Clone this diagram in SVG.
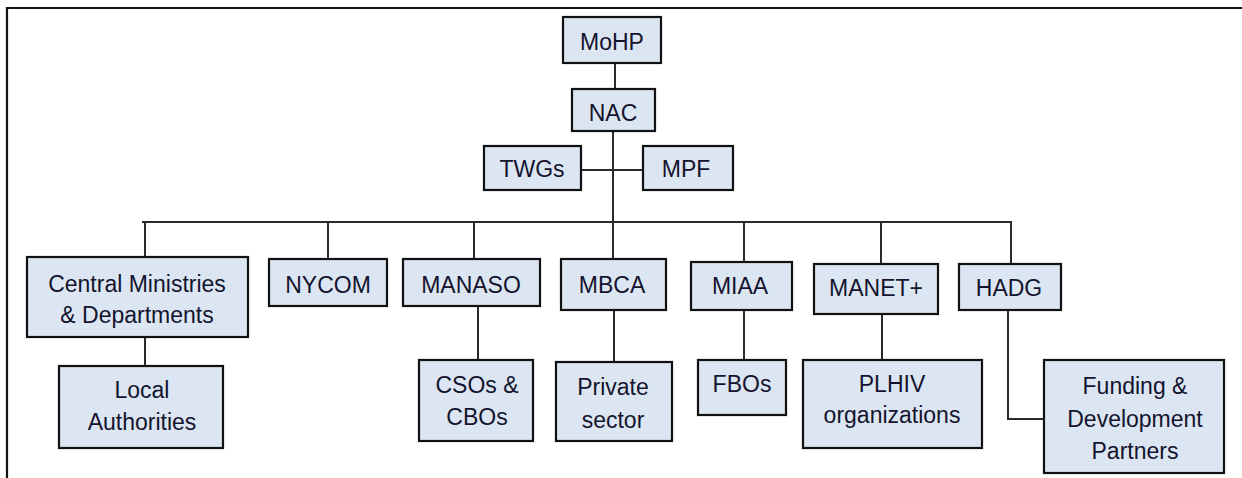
<svg xmlns="http://www.w3.org/2000/svg" width="1242" height="478" viewBox="0 0 1242 478">
<style>
.box{fill:#dce6f2;stroke:#111;stroke-width:2.2}
.t{font-family:"Liberation Sans",Arial,sans-serif;font-size:23px;fill:#14142e;text-anchor:middle}
.c{fill:none;stroke:#2a2a2a;stroke-width:2}
</style>
<rect width="1242" height="478" fill="#fff"/>
<path d="M7,478 V8 H1242" fill="none" stroke="#111" stroke-width="2.2"/>
<g id="connectors">
<path class="c" d="M615,63 V89"/>
<path class="c" d="M613,131 V222"/>
<path class="c" d="M581,170 H643"/>
<path class="c" d="M142,222 H1012"/>
<path class="c" d="M145,222 V257"/>
<path class="c" d="M328,222 V259"/>
<path class="c" d="M474,222 V259"/>
<path class="c" d="M613,222 V259"/>
<path class="c" d="M744,222 V262"/>
<path class="c" d="M881,222 V264"/>
<path class="c" d="M1011,222 V264"/>
<path class="c" d="M145,337 V366"/>
<path class="c" d="M478,306 V360"/>
<path class="c" d="M614,310 V362"/>
<path class="c" d="M744,310 V360"/>
<path class="c" d="M882,314 V360"/>
<path class="c" d="M1008,310 V419 H1044"/>
</g>
<g id="mohp"><rect class="box" x="563" y="17" width="98" height="46"/><text class="t" x="612" y="50">MoHP</text></g>
<g id="nac"><rect class="box" x="572" y="89" width="83" height="42"/><text class="t" x="613" y="121">NAC</text></g>
<g id="twgs"><rect class="box" x="484" y="146" width="97" height="44"/><text class="t" x="532" y="177">TWGs</text></g>
<g id="mpf"><rect class="box" x="643" y="146" width="90" height="44"/><text class="t" x="686" y="177">MPF</text></g>
<g id="central"><rect class="box" x="27" y="257" width="221" height="80"/><text class="t" x="137" y="292">Central Ministries</text><text class="t" x="137" y="323">&amp; Departments</text></g>
<g id="nycom"><rect class="box" x="269" y="259" width="118" height="47"/><text class="t" x="328" y="293">NYCOM</text></g>
<g id="manaso"><rect class="box" x="403" y="259" width="137" height="47"/><text class="t" x="471" y="293">MANASO</text></g>
<g id="mbca"><rect class="box" x="561" y="259" width="105" height="51"/><text class="t" x="612" y="293">MBCA</text></g>
<g id="miaa"><rect class="box" x="691" y="262" width="101" height="48"/><text class="t" x="740" y="294">MIAA</text></g>
<g id="manet"><rect class="box" x="814" y="264" width="124" height="50"/><text class="t" x="876" y="296">MANET+</text></g>
<g id="hadg"><rect class="box" x="959" y="264" width="102" height="46"/><text class="t" x="1009" y="296">HADG</text></g>
<g id="local"><rect class="box" x="59" y="366" width="164" height="82"/><text class="t" x="142" y="398">Local</text><text class="t" x="142" y="430">Authorities</text></g>
<g id="csos"><rect class="box" x="419" y="360" width="114" height="81"/><text class="t" x="477" y="393">CSOs &amp;</text><text class="t" x="477" y="425">CBOs</text></g>
<g id="private"><rect class="box" x="556" y="362" width="116" height="79"/><text class="t" x="613" y="395">Private</text><text class="t" x="613" y="428">sector</text></g>
<g id="fbos"><rect class="box" x="698" y="360" width="88" height="55"/><text class="t" x="742" y="392">FBOs</text></g>
<g id="plhiv"><rect class="box" x="803" y="360" width="179" height="88"/><text class="t" x="892" y="392">PLHIV</text><text class="t" x="892" y="423">organizations</text></g>
<g id="funding"><rect class="box" x="1044" y="360" width="180" height="113"/><text class="t" x="1135" y="394">Funding &amp;</text><text class="t" x="1135" y="427">Development</text><text class="t" x="1135" y="459">Partners</text></g>
</svg>
